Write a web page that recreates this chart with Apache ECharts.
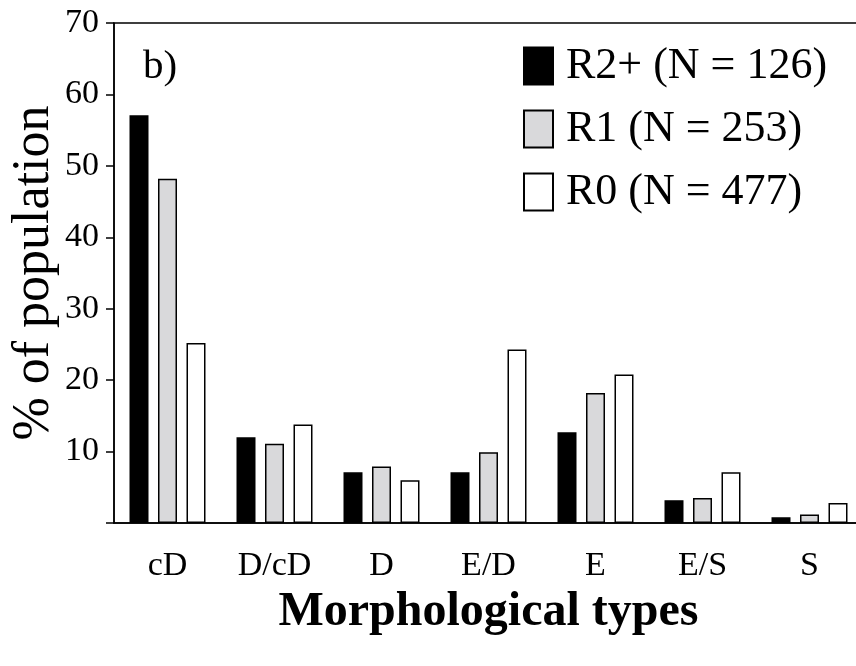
<!DOCTYPE html>
<html>
<head>
<meta charset="utf-8">
<script src="https://cdn.jsdelivr.net/npm/echarts@6/dist/echarts.min.js"></script>
<style>
  html, body { margin: 0; padding: 0; background: #fff; }
  #chart { width: 856px; height: 666px; }
</style>
</head>
<body>
<div id="chart"></div>
<script>
// categories on the x axis
var categories = ['cD', 'D/cD', 'D', 'E/D', 'E', 'E/S', 'S']
// series names (legend)
var seriesNames = ['R2+ (N = 126)', 'R1 (N = 253)', 'R0 (N = 477)']
// % of population per morphological type
var r2Values = [57.1, 12.0, 7.1, 7.1, 12.7, 3.2, 0.8]
var r1Values = [48.2, 11.1, 7.9, 9.9, 18.2, 3.5, 1.2]
var r0Values = [25.2, 13.8, 6.0, 24.3, 20.8, 7.1, 2.8]

var serif = 'Liberation Serif'
var fills = ['#000000', '#d9d9db', '#ffffff']
var allValues = [r2Values, r1Values, r0Values]

var chart = echarts.init(document.getElementById('chart'))

var series = seriesNames.map(function (name, i) {
  return {
    name: name,
    type: 'bar',
    data: allValues[i],
    barWidth: 19,
    barGap: '50%',
    itemStyle: {
      color: fills[i],
      borderColor: '#000',
      borderWidth: 1.5
    }
  }
})

chart.setOption({
  animation: false,
  textStyle: { fontFamily: serif, color: '#000' },
  title: {
    text: 'b)',
    left: 138,
    top: 42,
    textStyle: { fontFamily: serif, fontSize: 41, fontWeight: 'normal', color: '#000' }
  },
  legend: {
    orient: 'vertical',
    left: 518,
    top: 39,
    icon: 'rect',
    itemWidth: 29,
    itemHeight: 37,
    itemGap: 19,
    data: seriesNames,
    textStyle: {
      fontFamily: serif,
      fontSize: 44,
      lineHeight: 38,
      color: '#000',
      padding: [0, 0, 0, 8]
    }
  },
  // right edge of the plot lies just beyond the canvas, so only top/left/bottom frame shows
  grid: {
    left: 114,
    width: 749,
    top: 23,
    bottom: 143,
    show: true,
    borderColor: '#000',
    borderWidth: 1.5,
    containLabel: false,
    outerBoundsMode: 'none'
  },
  xAxis: {
    type: 'category',
    data: categories,
    name: 'Morphological types',
    nameLocation: 'middle',
    nameGap: 66,
    nameMoveOverlap: false,
    nameTextStyle: { fontFamily: serif, fontSize: 48, fontWeight: 'bold', color: '#000' },
    axisLine: { lineStyle: { color: '#000', width: 1.5 } },
    axisTick: { alignWithLabel: true, length: 7, lineStyle: { color: '#000', width: 1.5 } },
    axisLabel: { fontFamily: serif, fontSize: 34, color: '#000', margin: 26 }
  },
  yAxis: {
    type: 'value',
    min: 0,
    max: 70,
    interval: 10,
    name: '% of population',
    nameLocation: 'middle',
    nameGap: 54,
    nameMoveOverlap: false,
    nameTextStyle: { fontFamily: serif, fontSize: 52, color: '#000' },
    splitLine: { show: false },
    axisLine: { show: true, lineStyle: { color: '#000', width: 1.5 } },
    axisTick: { show: true, length: 8, lineStyle: { color: '#000', width: 1.5 } },
    axisLabel: {
      fontFamily: serif,
      fontSize: 34,
      color: '#000',
      margin: 15,
      formatter: function (v) { return v === 0 ? '' : v }
    }
  },
  series: series
})
</script>
</body>
</html>
